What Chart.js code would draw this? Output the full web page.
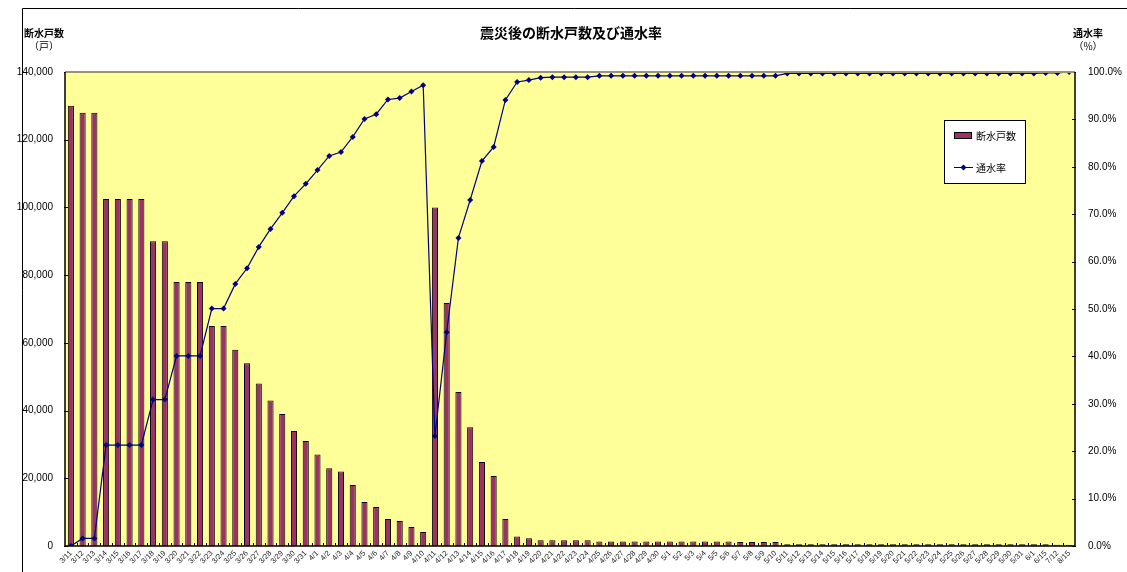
<!DOCTYPE html>
<html>
<head>
<meta charset="utf-8">
<script src="https://cdn.jsdelivr.net/npm/chart.js@4/dist/chart.umd.min.js"></script>
<style>
  html, body { margin: 0; padding: 0; background: #ffffff; }
  #wrap { width: 1127px; height: 572px; }
</style>
</head>
<body>
<div id="wrap"><canvas id="c" width="1127" height="572"></canvas></div>
<script>
// 日付（3/11〜）
const dates = [
  '3/11','3/12','3/13','3/14','3/15','3/16','3/17','3/18','3/19','3/20',
  '3/21','3/22','3/23','3/24','3/25','3/26','3/27','3/28','3/29','3/30','3/31',
  '4/1','4/2','4/3','4/4','4/5','4/6','4/7','4/8','4/9','4/10',
  '4/11','4/12','4/13','4/14','4/15','4/16','4/17','4/18','4/19','4/20',
  '4/21','4/22','4/23','4/24','4/25','4/26','4/27','4/28','4/29','4/30',
  '5/1','5/2','5/3','5/4','5/5','5/6','5/7','5/8','5/9','5/10',
  '5/11','5/12','5/13','5/14','5/15','5/16','5/17','5/18','5/19','5/20',
  '5/21','5/22','5/23','5/24','5/25','5/26','5/27','5/28','5/29','5/30','5/31',
  '6/1','6/15','7/12','8/15'
];

// 断水戸数（戸）
const outageHouseholds = [
  130000,128000,128000,102500,102500,102500,102500,90000,90000,78000,
  78000,78000,65000,65000,58000,54000,48000,43000,39000,34000,31000,
  27000,23000,22000,18000,13000,11500,8000,7400,5600,4100,
  100000,71800,45500,35100,24800,20700,8000,2800,2300,1700,
  1700,1700,1700,1700,1300,1300,1300,1300,1300,1300,
  1300,1300,1300,1300,1300,1300,1200,1200,1200,1200,
  500,500,500,500,500,500,500,500,500,500,
  500,500,500,500,500,500,500,500,500,500,500,
  500,500,400,300
];

// 通水率（%）
const supplyRate = [
  0,1.6,1.6,21.3,21.3,21.3,21.3,30.9,30.9,40.1,
  40.1,40.1,50.1,50.1,55.3,58.6,63.1,66.9,70.3,73.8,76.4,
  79.3,82.3,83.1,86.3,90.1,91.1,94.2,94.5,95.9,97.2,
  23.2,45.1,65.0,73.0,81.2,84.2,94.1,97.9,98.3,98.8,
  98.9,98.9,98.9,98.9,99.2,99.2,99.2,99.2,99.2,99.2,
  99.2,99.2,99.2,99.2,99.2,99.2,99.2,99.2,99.2,99.2,
  99.7,99.7,99.7,99.7,99.7,99.7,99.7,99.7,99.7,99.7,
  99.7,99.7,99.7,99.7,99.7,99.7,99.7,99.7,99.7,99.7,99.7,
  99.7,99.8,99.8,100
];

const leftTicks = [0,20000,40000,60000,80000,100000,120000,140000];
const rightTicks = [0,10,20,30,40,50,60,70,80,90,100];

const JP = '"Noto Sans CJK JP", "Noto Sans", sans-serif';
const LAT = '"Liberation Sans", Arial, sans-serif';

const BAR_FILL = '#993366';
const LINE_COL = '#000080';
const PLOT_BG = '#FFFF99';

// 背景・枠・目盛線・見出し・凡例
const decor = {
  id: 'decor',
  beforeDraw(chart) {
    const { ctx, chartArea: a } = chart;
    ctx.save();
    ctx.fillStyle = PLOT_BG;
    ctx.fillRect(a.left, a.top, a.right - a.left, a.bottom - a.top);
    ctx.restore();
  },
  afterDatasetsDraw(chart) {
    const { ctx, chartArea: a, scales } = chart;
    ctx.save();
    ctx.strokeStyle = '#000';
    ctx.lineWidth = 1;
    ctx.beginPath();
    // 左軸の目盛
    leftTicks.forEach(v => {
      const y = Math.round(scales.yL.getPixelForValue(v)) + 0.5;
      ctx.moveTo(a.left - 1, y);
      ctx.lineTo(a.left + 3, y);
    });
    // 右軸の目盛
    rightTicks.forEach(v => {
      const y = Math.round(scales.yR.getPixelForValue(v)) + 0.5;
      ctx.moveTo(a.right - 3, y);
      ctx.lineTo(a.right + 1, y);
    });
    // 横軸の区切り
    const step = (a.right - a.left) / dates.length;
    for (let i = 1; i < dates.length; i++) {
      const x = Math.round(a.left + step * i) + 0.5;
      ctx.moveTo(x, a.bottom);
      ctx.lineTo(x, a.bottom - 3);
    }
    ctx.stroke();
    ctx.restore();
  },
  afterDraw(chart) {
    const { ctx, chartArea: a } = chart;
    ctx.save();
    // 外枠
    ctx.strokeStyle = '#000';
    ctx.lineWidth = 1;
    ctx.beginPath();
    ctx.moveTo(22.5, 572);
    ctx.lineTo(22.5, 8.5);
    ctx.lineTo(1127, 8.5);
    ctx.stroke();

    // プロット枠
    ctx.strokeStyle = '#9a9470';
    ctx.lineWidth = 2;
    ctx.beginPath();
    ctx.moveTo(a.left, a.top);
    ctx.lineTo(a.right, a.top);
    ctx.stroke();
    ctx.strokeStyle = '#000';
    ctx.lineWidth = 1.5;
    ctx.beginPath();
    ctx.moveTo(a.left, a.top);
    ctx.lineTo(a.left, a.bottom);
    ctx.lineTo(a.right, a.bottom);
    ctx.lineTo(a.right, a.top);
    ctx.stroke();

    // タイトル
    ctx.fillStyle = '#000';
    ctx.textBaseline = 'middle';
    ctx.textAlign = 'center';
    ctx.font = 'bold 14px ' + JP;
    ctx.fillText('震災後の断水戸数及び通水率', 571, 33);

    ctx.font = 'bold 10px ' + JP;
    ctx.fillText('断水戸数', 44, 33);
    ctx.font = '10px ' + JP;
    ctx.fillText('（戸）', 44, 46);
    ctx.font = 'bold 10px ' + JP;
    ctx.fillText('通水率', 1088, 33);
    ctx.font = '10px ' + JP;
    ctx.fillText('（%）', 1088, 46);

    // 凡例
    const lx = 944.5, ly = 120.5, lw = 81, lh = 63;
    ctx.fillStyle = '#fff';
    ctx.fillRect(lx, ly, lw, lh);
    ctx.strokeStyle = '#000';
    ctx.lineWidth = 1;
    ctx.strokeRect(lx, ly, lw, lh);

    const ds = chart.data.datasets;
    ctx.fillStyle = BAR_FILL;
    ctx.fillRect(954, 132, 18, 7);
    ctx.strokeStyle = '#000';
    ctx.strokeRect(954.5, 132.5, 17, 6);

    ctx.strokeStyle = LINE_COL;
    ctx.lineWidth = 1;
    ctx.beginPath();
    ctx.moveTo(954, 167.5);
    ctx.lineTo(973, 167.5);
    ctx.stroke();
    ctx.fillStyle = LINE_COL;
    ctx.beginPath();
    ctx.moveTo(963.5, 164.5);
    ctx.lineTo(966.5, 167.5);
    ctx.lineTo(963.5, 170.5);
    ctx.lineTo(960.5, 167.5);
    ctx.closePath();
    ctx.fill();

    ctx.fillStyle = '#000';
    ctx.textAlign = 'left';
    ctx.font = '10px ' + JP;
    ctx.fillText(ds[1].label, 976, 136);
    ctx.fillText(ds[0].label, 976, 168);
    ctx.restore();
  }
};

new Chart(document.getElementById('c'), {
  data: {
    labels: dates,
    datasets: [
      {
        type: 'line',
        label: '通水率',
        data: supplyRate,
        yAxisID: 'yR',
        borderColor: LINE_COL,
        backgroundColor: LINE_COL,
        borderWidth: 1.2,
        pointStyle: 'rectRot',
        pointRadius: 3,
        pointBorderWidth: 0,
        tension: 0,
        order: 0
      },
      {
        type: 'bar',
        label: '断水戸数',
        data: outageHouseholds,
        yAxisID: 'yL',
        backgroundColor: BAR_FILL,
        borderColor: '#000',
        borderWidth: 1,
        barPercentage: 0.52,
        categoryPercentage: 1.0,
        order: 1
      }
    ]
  },
  options: {
    responsive: false,
    animation: false,
    events: [],
    layout: { padding: { top: 72, left: 0, right: 0, bottom: 0 } },
    plugins: { legend: { display: false }, tooltip: { enabled: false }, title: { display: false } },
    scales: {
      x: {
        grid: { display: false, drawTicks: false },
        border: { display: false },
        ticks: {
          autoSkip: false,
          minRotation: 45,
          maxRotation: 45,
          padding: 3,
          color: '#222',
          font: { family: LAT, size: 7.5 }
        },
        afterFit(s) { s.height = 26; s.paddingLeft = 0; s.paddingRight = 0; }
      },
      yL: {
        position: 'left',
        min: 0,
        max: 140000,
        afterBuildTicks(s) { s.ticks = leftTicks.map(v => ({ value: v })); },
        grid: { display: false, drawTicks: false },
        border: { display: false },
        ticks: {
          color: '#000',
          padding: 12,
          font: { family: LAT, size: 10 },
          callback: v => v.toLocaleString('en-US')
        },
        afterFit(s) { s.width = 65; }
      },
      yR: {
        position: 'right',
        min: 0,
        max: 100,
        afterBuildTicks(s) { s.ticks = rightTicks.map(v => ({ value: v })); },
        grid: { display: false, drawTicks: false },
        border: { display: false },
        ticks: {
          color: '#000',
          padding: 13,
          font: { family: LAT, size: 10 },
          callback: v => v.toFixed(1) + '%'
        },
        afterFit(s) { s.width = 52; }
      }
    }
  },
  plugins: [decor]
});
</script>
</body>
</html>
